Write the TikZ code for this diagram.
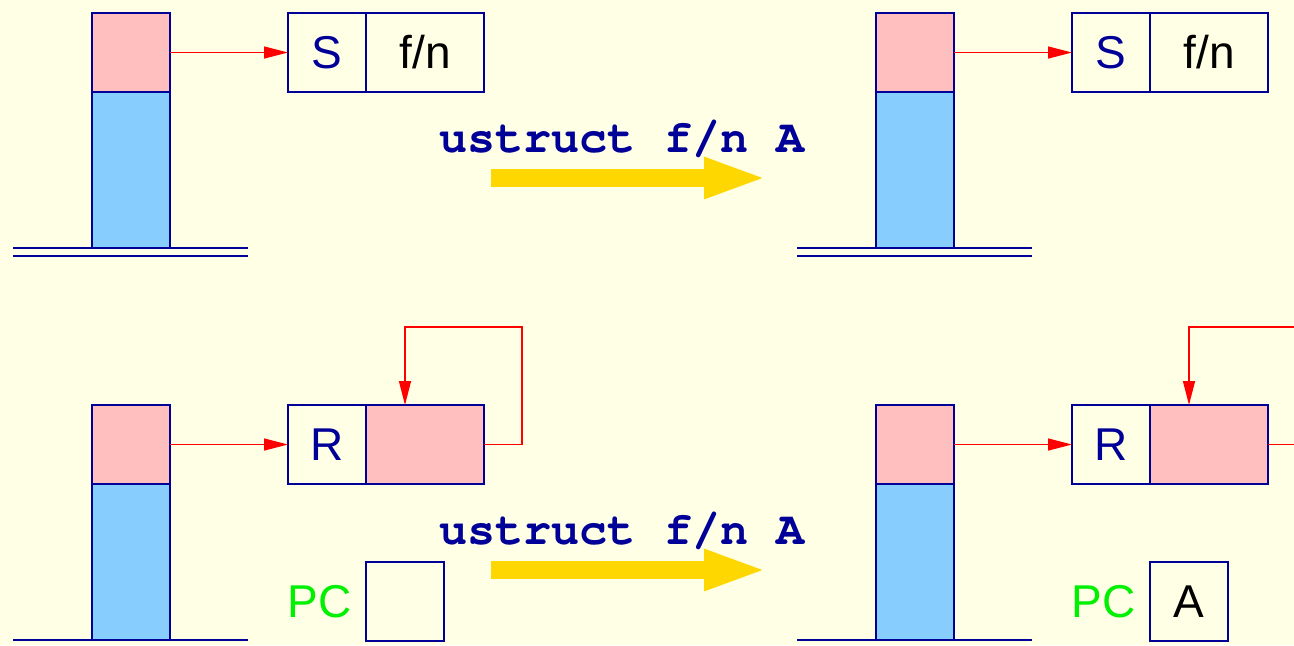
\documentclass[tikz,border=0pt]{standalone}
\usepackage{fontspec}
\setmainfont{Liberation Sans}
\usepackage{tikz}
\usetikzlibrary{positioning, arrows.meta}
\usepackage{xcolor}
\definecolor{bgyellow}{RGB}{255,255,230}
\definecolor{cellpink}{RGB}{255,191,191}
\definecolor{cellblue}{RGB}{135,206,255}
\definecolor{linenavy}{RGB}{0,0,153}
\definecolor{movegold}{RGB}{255,215,0}
\definecolor{pcgreen}{RGB}{0,240,0}
\tikzstyle{Cell} = [
draw=linenavy,
line width=0.8pt,
inner sep=0pt, outer sep=0pt,
minimum width=39pt, minimum height=39.5pt,
font=\fontsize{23}{28}\selectfont]
\tikzstyle{Label} = [
inner sep=0pt, text=pcgreen,
font=\fontsize{23}{28}\selectfont]
\tikzstyle{Pointer} = [
red, line width=0.7pt,
-{Triangle[length=12pt, width=6pt]}]
\tikzstyle{Move} = [
movegold, line width=9pt,
-{Triangle[length=32pt, width=18.5pt]}]
\tikzstyle{Ground} = [linenavy, line width=0.8pt]
\tikzstyle{Code} = [
text=linenavy, inner sep=0pt,
font=\fontencoding{T1}\fontfamily{pcr}\fontseries{b}\fontsize{23.4}{28}\selectfont]

\begin{document}
\begin{tikzpicture}[x=0.5pt, y=-0.5pt]
    \fill[bgyellow] (0,0) rectangle (1294,645);
    \useasboundingbox (0,0) rectangle (1294,645);
    \clip (0,0) rectangle (1294,645);

    % before: frame points at S f/n
    \node [Cell, fill=cellpink, anchor=north west] (top1) at (92,13) {};
    \node [Cell, fill=cellblue, minimum height=78pt, below=0pt of top1] (base1) {};
    \node [Cell, text=linenavy, anchor=north west] (tag1) at (288,13) {S};
    \node [Cell, minimum width=59pt, right=0pt of tag1] (val1) {f/n};
    \draw[Pointer] (top1.east) -- (tag1.west);
    \draw[Ground] (13,248) -- (248,248) (13,256) -- (248,256);

    % after: nothing changes
    \node [Cell, fill=cellpink, anchor=north west] (top2) at (876,13) {};
    \node [Cell, fill=cellblue, minimum height=78pt, below=0pt of top2] (base2) {};
    \node [Cell, text=linenavy, anchor=north west] (tag2) at (1072,13) {S};
    \node [Cell, minimum width=59pt, right=0pt of tag2] (val2) {f/n};
    \draw[Pointer] (top2.east) -- (tag2.west);
    \draw[Ground] (797,248) -- (1032,248) (797,256) -- (1032,256);

    \node [Code, anchor=base] (cmd1) at (622,152) {ustruct f/n A};
    \coordinate (from1) at (491,178);
    \coordinate (to1) at (768,178);
    \draw[Move] (from1) -- (to1);

    % before: frame points at a ref cell, PC empty
    \node [Cell, fill=cellpink, anchor=north west] (top3) at (92,405) {};
    \node [Cell, fill=cellblue, minimum height=78pt, below=0pt of top3] (base3) {};
    \node [Cell, text=linenavy, anchor=north west] (tag3) at (288,405) {R};
    \node [Cell, fill=cellpink, minimum width=59pt, right=0pt of tag3] (val3) {};
    \draw[Pointer] (top3.east) -- (tag3.west);
    \coordinate (loop3) at (405,327);
    \draw[Pointer] (val3.east) -- ++(38,0) |- (loop3) -- (loop3 |- val3.north);
    \node [Cell, anchor=north west] (pc3) at (366,562) {};
    \node [Label, left=7pt of pc3] (pclabel3) {PC};
    \draw[Ground] (13,640) -- (248,640);

    % after: PC gets A
    \node [Cell, fill=cellpink, anchor=north west] (top4) at (876,405) {};
    \node [Cell, fill=cellblue, minimum height=78pt, below=0pt of top4] (base4) {};
    \node [Cell, text=linenavy, anchor=north west] (tag4) at (1072,405) {R};
    \node [Cell, fill=cellpink, minimum width=59pt, right=0pt of tag4] (val4) {};
    \draw[Pointer] (top4.east) -- (tag4.west);
    \coordinate (loop4) at (1189,327);
    \draw[Pointer] (val4.east) -- ++(38,0) |- (loop4) -- (loop4 |- val4.north);
    \node [Cell, anchor=north west] (pc4) at (1150,562) {A};
    \node [Label, left=7pt of pc4] (pclabel4) {PC};
    \draw[Ground] (797,640) -- (1032,640);

    \node [Code, anchor=base] (cmd2) at (622,544) {ustruct f/n A};
    \coordinate (from2) at (491,570);
    \coordinate (to2) at (768,570);
    \draw[Move] (from2) -- (to2);
\end{tikzpicture}
\end{document}
